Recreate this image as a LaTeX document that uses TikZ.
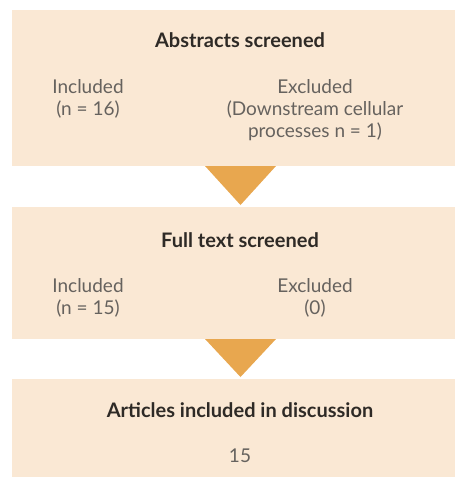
\documentclass[tikz,border=0pt]{standalone}
\usepackage{fontspec}
\setmainfont{Lato}
\definecolor{boxfill}{HTML}{FAE8D4}
\definecolor{arrowfill}{HTML}{E8A74F}
\definecolor{titletext}{HTML}{2E2A26}
\definecolor{bodytext}{HTML}{66625E}
\tikzset{
  panel/.style={fill=boxfill},
  pointer/.style={fill=arrowfill},
  heading/.style={font=\fontsize{20}{22}\selectfont\bfseries, text=titletext, anchor=base, inner sep=0pt},
  entry/.style={font=\fontsize{19}{22}\selectfont, text=bodytext, align=center, anchor=base, inner sep=0pt}
}
\begin{document}
\begin{tikzpicture}[
				x=1pt,
				y=-1pt,
				line join=round
			]
			\useasboundingbox (0,0) rectangle (455,477);

			% Panels
			\fill[panel] (12,10) rectangle (455,166);
			\fill[panel] (12,207) rectangle (455,339);
			\fill[panel] (12,379) rectangle (455,477);

			% Pointers between panels
			\fill[pointer] (205,166) -- (276,166) -- (240.5,205) -- cycle;
			\fill[pointer] (205,339) -- (276,339) -- (240.5,377) -- cycle;

			% Abstracts (base = last line)
			\node[heading] (abstracts) at (240,47) {Abstracts screened};
			\node[entry] (absin) at (88,115) {Included\\(n = 16)};
			\node[entry] (absout) at (315,137) {Excluded\\(Downstream cellular\\processes n = 1)};

			% Full text
			\node[heading] (fulltext) at (240,247) {Full text screened};
			\node[entry] (fullin) at (88,314) {Included\\(n = 15)};
			\node[entry] (fullout) at (315,314) {Excluded\\(0)};

			% Articles
			\node[heading] (articles) at (240,417) {Articles included in discussion};
			\node[entry] (count) at (240,462) {15};

		\end{tikzpicture}
\end{document}
